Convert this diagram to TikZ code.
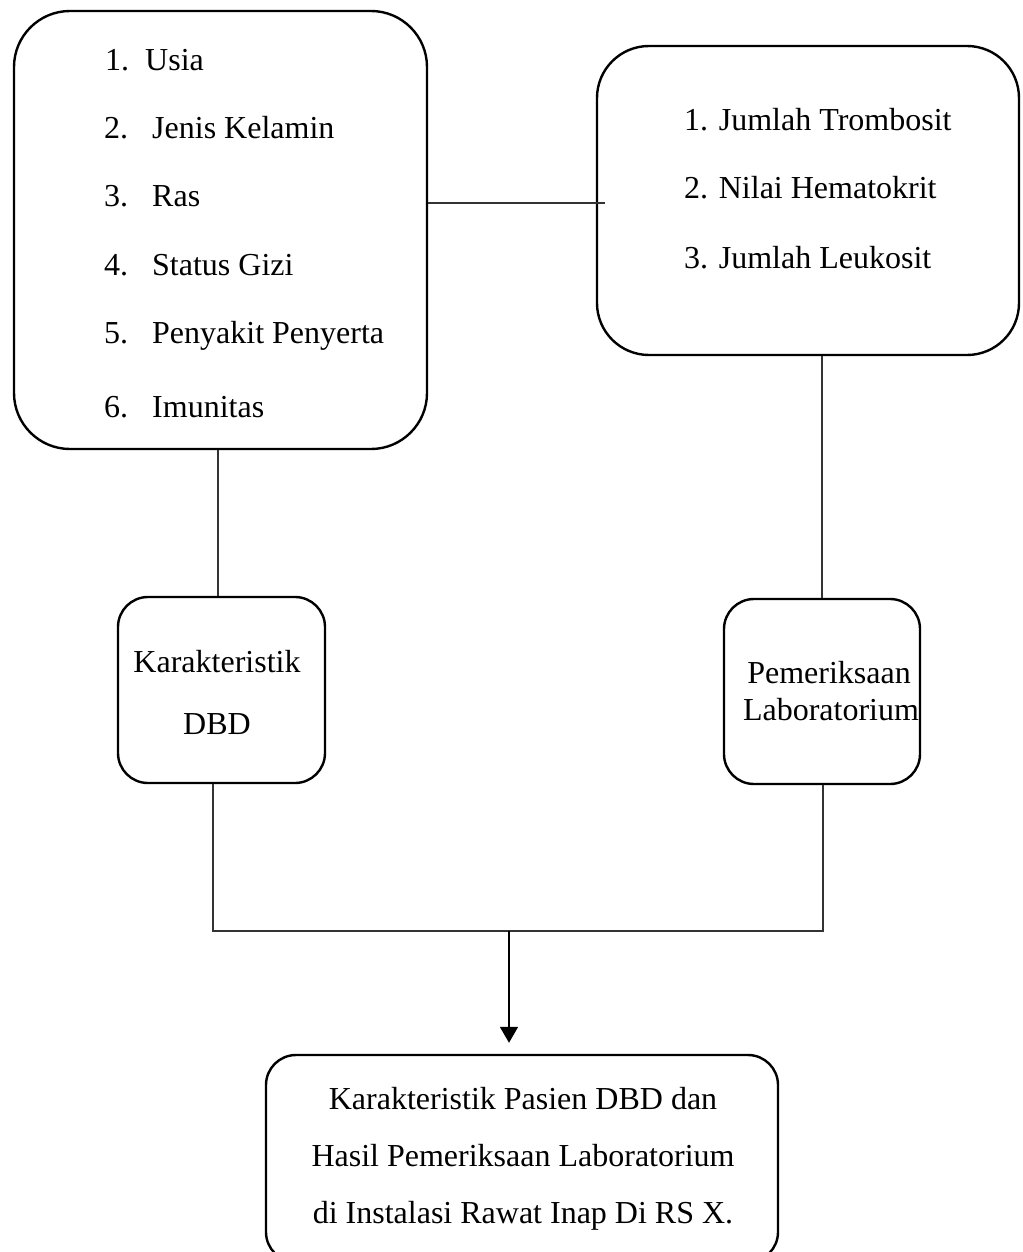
\documentclass[tikz,border=0pt]{standalone}
\usepackage{fontspec}
\setmainfont{Liberation Serif}
\usetikzlibrary{arrows.meta}
\begin{document}
\begin{tikzpicture}[x=1pt,y=-1pt,
  box/.style={draw=black, line width=2.4pt, rounded corners=#1, inner sep=0pt},
  txt/.style={font=\fontsize{32}{38}\selectfont, inner sep=0pt},
  conn/.style={draw=black!80, line width=1.6pt},
  arr/.style={conn, draw=black, -{Triangle[width=18pt,length=16pt]}}]
\useasboundingbox (0,0) rectangle (1022,1252);
\fill[white] (0,0) rectangle (1022,1252);
\clip (0,0) rectangle (1022,1252);

% boxes
\node[box=56pt, minimum width=413pt, minimum height=438pt] (b1) at (220.5,230) {};
\node[box=52pt, minimum width=422pt, minimum height=309pt] (b2) at (808,200.5) {};
\node[box=30pt, minimum width=207pt, minimum height=186pt] (b3) at (221.5,690) {};
\node[box=30pt, minimum width=196pt, minimum height=185pt] (b4) at (822,691.5) {};
\node[box=30pt, minimum width=512pt, minimum height=207pt] (b5) at (522,1158.5) {};

% box 1 text
\node[txt, anchor=base west] (n1) at (105,71) {1.};
\node[txt, anchor=base west] (t1) at (145,71) {Usia};
\node[txt, anchor=base west] (n2) at (104,139) {2.};
\node[txt, anchor=base west] (t2) at (152,139) {Jenis Kelamin};
\node[txt, anchor=base west] (n3) at (104,207) {3.};
\node[txt, anchor=base west] (t3) at (152,207) {Ras};
\node[txt, anchor=base west] (n4) at (104,275) {4.};
\node[txt, anchor=base west] (t4) at (152,275) {Status Gizi};
\node[txt, anchor=base west] (n5) at (104,343) {5.};
\node[txt, anchor=base west] (t5) at (152,343) {Penyakit Penyerta};
\node[txt, anchor=base west] (n6) at (104,417) {6.};
\node[txt, anchor=base west] (t6) at (152,417) {Imunitas};

% box 2 text
\node[txt, anchor=base west] (r1) at (684,131) {1. Jumlah Trombosit};
\node[txt, anchor=base west] (r2) at (684,199) {2. Nilai Hematokrit};
\node[txt, anchor=base west] (r3) at (684,268) {3. Jumlah Leukosit};

% box 3 text
\node[txt, anchor=base] (k1) at (217,672) {Karakteristik};
\node[txt, anchor=base] (k2) at (217,734) {DBD};

% box 4 text
\node[txt, anchor=base] (p1) at (829,683) {Pemeriksaan};
\node[txt, anchor=base] (p2) at (831,720) {Laboratorium};

% box 5 text
\node[txt, anchor=base] (h1) at (523,1109) {Karakteristik Pasien DBD dan};
\node[txt, anchor=base] (h2) at (523,1166) {Hasil Pemeriksaan Laboratorium};
\node[txt, anchor=base] (h3) at (523,1223) {di Instalasi Rawat Inap Di RS X.};

% connectors
\coordinate (j12) at (605,203);
\coordinate (x218) at (218,0);
\coordinate (x822) at (822,0);
\coordinate (jl) at (213,931);
\coordinate (jr) at (823,931);
\coordinate (jm) at (509,931);

\draw[conn] (b1.east |- j12) -- (j12);
\draw[conn] (b1.south -| x218) -- (b3.north -| x218);
\draw[conn] (b2.south -| x822) -- (b4.north -| x822);
\draw[conn] (b3.south -| jl) -- (jl) -- (jr) -- (b4.south -| jr);
\draw[arr, shorten >=11pt] (jm) -- (b5.north -| jm);
\end{tikzpicture}
\end{document}
